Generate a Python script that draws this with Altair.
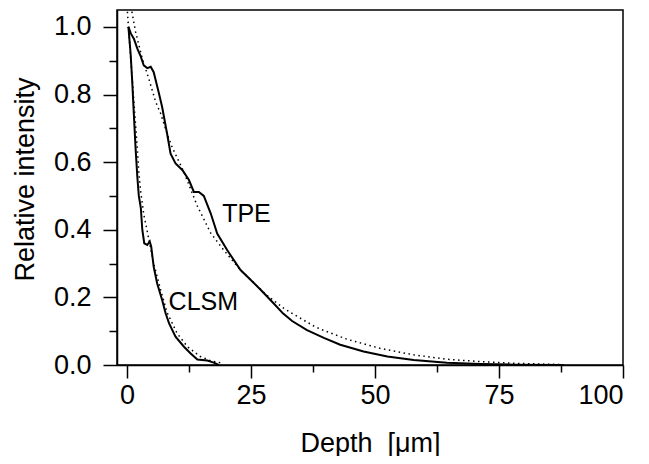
import altair as alt
import pandas as pd

# TPE measured profile
tpe_depth = [0.3, 0.8, 1.4, 2.1, 2.8, 3.4, 4.1, 4.8, 5.4, 6.4, 7.1, 8.1, 8.8, 9.8,
             11.2, 12.5, 13.5, 14.5, 15.5, 16.9, 18.2, 20.2, 22.9, 24.3, 27.0, 29.6,
             31.5, 33.3, 36.3, 39.7, 43.0, 44.4, 47.7, 52.5, 57.8, 64.5, 71.2, 78.0, 88.0]
tpe_int = [1.00, 0.98, 0.965, 0.936, 0.912, 0.886, 0.878, 0.882, 0.866, 0.807, 0.763, 0.684,
           0.625, 0.596, 0.576, 0.547, 0.512, 0.512, 0.500, 0.448, 0.389, 0.340, 0.281, 0.261,
           0.222, 0.182, 0.152, 0.130, 0.103, 0.080, 0.060, 0.054, 0.040, 0.025, 0.015, 0.007,
           0.003, 0.001, 0.0]

# TPE fit (dotted)
tpe_fit_depth = [1.0, 1.75, 3.1, 4.4, 5.8, 6.8, 8.1, 9.1, 11.5, 14.2, 16.9, 19.5, 22.9,
                 28.3, 31.6, 33.6, 37.7, 39.0, 44.4, 51.1, 57.8, 64.5, 71.2, 78.0, 88.0]
tpe_fit_int = [1.045, 0.985, 0.906, 0.847, 0.778, 0.744, 0.684, 0.645, 0.570, 0.470, 0.390,
               0.340, 0.281, 0.205, 0.168, 0.150, 0.115, 0.106, 0.076, 0.049, 0.030, 0.017,
               0.010, 0.005, 0.001]

# CLSM measured profile
clsm_depth = [0.3, 0.75, 1.1, 1.4, 1.75, 2.1, 2.4, 2.8, 3.1, 3.5, 4.1, 4.6, 4.9, 5.4, 6.1,
              7.1, 7.8, 8.5, 9.8, 11.5, 12.8, 14.2, 16.2, 17.5, 18.5]
clsm_int = [1.00, 0.92, 0.83, 0.74, 0.64, 0.556, 0.50, 0.465, 0.40, 0.36, 0.355, 0.366, 0.35,
            0.29, 0.241, 0.192, 0.153, 0.123, 0.084, 0.054, 0.035, 0.016, 0.013, 0.007, 0.0]

# CLSM fit (dotted)
clsm_fit_depth = [0.1, 0.5, 1.0, 1.5, 2.0, 2.4, 2.8, 3.4, 4.1, 5.4, 6.8, 8.1, 10.1, 12.2,
                  14.8, 17.0, 19.5]
clsm_fit_int = [1.045, 0.96, 0.86, 0.76, 0.66, 0.57, 0.51, 0.445, 0.395, 0.30, 0.222, 0.155,
                0.094, 0.054, 0.025, 0.012, 0.005]

label_text = ["TPE", "CLSM"]
label_x = [24.1, 15.4]
label_y = [0.446, 0.186]

x_ticks = [0, 12.5, 25, 37.5, 50, 62.5, 75, 87.5, 100]
y_ticks = [0.0, 0.1, 0.2, 0.3, 0.4, 0.5, 0.6, 0.7, 0.8, 0.9, 1.0]


def make(name, xs, ys):
    return pd.DataFrame({"curve": name, "depth": xs, "intensity": ys, "i": range(len(xs))})


measured = pd.concat([make("TPE", tpe_depth, tpe_int), make("CLSM", clsm_depth, clsm_int)])
fits = pd.concat([make("TPE fit", tpe_fit_depth, tpe_fit_int),
                  make("CLSM fit", clsm_fit_depth, clsm_fit_int)])
labels = pd.DataFrame({"text": label_text, "depth": label_x, "intensity": label_y})

FONT = "Liberation Sans"

x_scale = alt.Scale(domain=[-2, 100], nice=False, zero=False)
y_scale = alt.Scale(domain=[0, 1.05], nice=False, zero=False)

x_axis = alt.Axis(
    values=x_ticks,
    format=".0f",
    labelExpr="datum.value % 25 == 0 ? datum.label : ''",
    tickSize={"condition": {"test": "datum.value % 25 != 0", "value": 7}, "value": 13},
    title="Depth\u00a0\u00a0[\u03bcm]",
    titleY=86,
    titleBaseline="alphabetic",
    labelPadding=4,
    grid=False,
)
y_axis = alt.Axis(
    values=y_ticks,
    labelExpr="round(datum.value*10) % 2 == 0 ? format(datum.value, '.1f') : ''",
    tickSize={"condition": {"test": "round(datum.value*10) % 2 == 1", "value": 8}, "value": 14},
    title="Relative intensity",
    titleAngle=270,
    titleX=-84,
    titleY=169,
    titleAlign="center",
    titleBaseline="alphabetic",
    labelPadding=12,
    grid=False,
)

x_enc = alt.X("depth:Q", scale=x_scale, axis=x_axis)
y_enc = alt.Y("intensity:Q", scale=y_scale, axis=y_axis)

solid = alt.Chart(measured).mark_line(color="black", strokeWidth=2, clip=True).encode(
    x=x_enc, y=y_enc, detail="curve:N", order="i:Q"
)
dotted = alt.Chart(fits).mark_line(
    color="black", strokeWidth=1.5, strokeDash=[1.5, 3.5], clip=True
).encode(
    x=alt.X("depth:Q", scale=x_scale, axis=x_axis),
    y=alt.Y("intensity:Q", scale=y_scale, axis=y_axis),
    detail="curve:N", order="i:Q"
)
text = alt.Chart(labels).mark_text(
    font=FONT, fontSize=25, color="black", align="center", baseline="middle"
).encode(
    x=alt.X("depth:Q", scale=x_scale, axis=x_axis),
    y=alt.Y("intensity:Q", scale=y_scale, axis=y_axis),
    text="text:N",
)

chart = (
    alt.layer(solid, dotted, text)
    .properties(
        width=506,
        height=355,
        autosize=alt.AutoSizeParams(type="none"),
        padding={"left": 109, "top": 2, "right": 18, "bottom": 91},
        background="white",
    )
    .configure_view(stroke="black", strokeWidth=1.5)
    .configure_axis(
        labelFont=FONT,
        labelFontSize=27,
        labelColor="black",
        titleFont=FONT,
        titleFontSize=27,
        titleFontWeight="normal",
        titleColor="black",
        domainColor="black",
        domainWidth=1.5,
        tickColor="black",
        tickWidth=1.5,
    )
)

chart.save("out.html", embed_options={"renderer": "svg", "actions": False})
